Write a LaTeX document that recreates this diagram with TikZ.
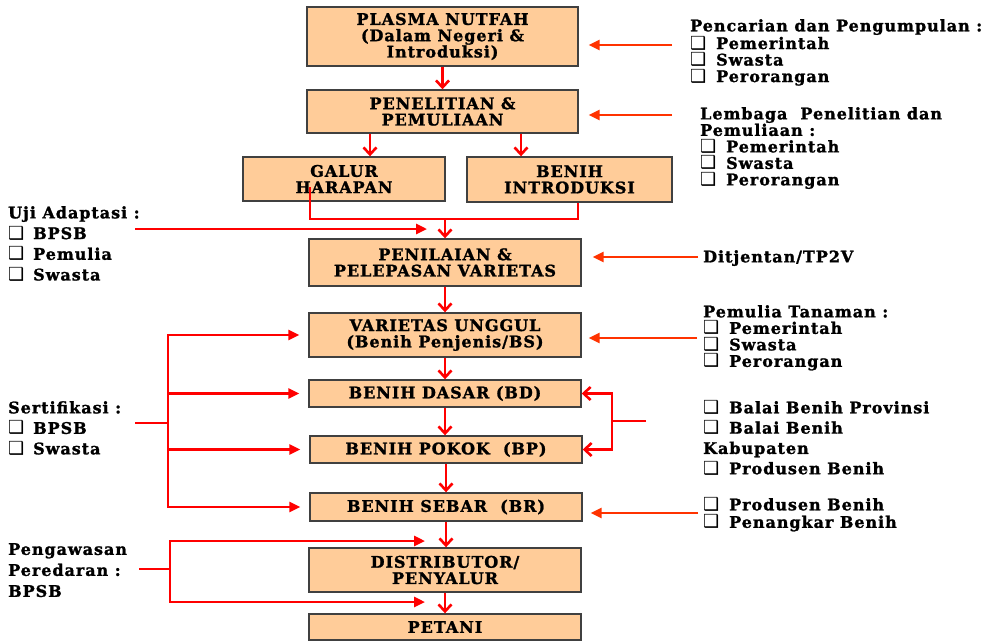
\documentclass[tikz,border=0pt]{standalone}
\usepackage{fontspec}
\setmainfont{DejaVu Serif}[LetterSpace=6, BoldFeatures={FakeBold=1.4}]
\newfontfamily\symf{DejaVu Sans}
\usetikzlibrary{arrows.meta}
\definecolor{boxfill}{RGB}{255,204,153}
\definecolor{boxline}{RGB}{64,64,64}
\definecolor{flowred}{RGB}{255,0,0}
\definecolor{srcred}{RGB}{255,51,0}
% checkbox bullets followed by a fixed indent
\newcommand{\cbox}{{\symf\fontsize{18}{18}\selectfont ❑}}
\newcommand{\cb}{\makebox[26pt][l]{\cbox}}
\newcommand{\cbl}{\makebox[25pt][l]{\cbox}}
\tikzset{
  bx/.style={draw=boxline, fill=boxfill, line width=1.4pt, align=center,
    inner sep=0pt, font=\bfseries\fontsize{16}{16.3}\selectfont},
  lst/.style={anchor=north west, inner sep=0pt, align=left,
    font=\bfseries\fontsize{16}{#1}\selectfont},
  lst/.default=16.5,
  flow/.style={draw=flowred, line width=2.6pt},
  dn/.style={flow, -{Straight Barb[length=7pt,width=13pt]}},
  lf/.style={flow, -{Triangle[length=11pt,width=10pt]}},
  rt/.style={draw=srcred, line width=2.6pt, -{Triangle[length=11pt,width=10pt]}},
}
\begin{document}
\begin{tikzpicture}[x=1pt,y=-1pt]
\useasboundingbox (0,0) rectangle (988,641);

% main chain of boxes
\node[bx, minimum width=271pt, minimum height=59pt] (plasma) at (442.5,36.5) {PLASMA NUTFAH\\(Dalam Negeri \&\\Introduksi)};
\node[bx, minimum width=271pt, minimum height=43pt] (pen) at (442.5,111.5) {PENELITIAN \&\\PEMULIAAN};
\node[bx, minimum width=202pt, minimum height=44pt] (galur) at (344,179) {GALUR\\HARAPAN};
\node[bx, minimum width=205pt, minimum height=45pt] (intro) at (569.5,179.5) {BENIH\\INTRODUKSI};
\node[bx, minimum width=272pt, minimum height=47pt] (penil) at (445,262.5) {PENILAIAN \&\\PELEPASAN VARIETAS};
\node[bx, minimum width=272pt, minimum height=44pt] (vu) at (445,335) {VARIETAS UNGGUL\\(Benih Penjenis/BS)};
\node[bx, minimum width=272pt, minimum height=27pt] (bd) at (445,393.5) {BENIH DASAR (BD)};
\node[bx, minimum width=272pt, minimum height=27pt] (bp) at (446,449.5) {BENIH POKOK\ \ (BP)};
\node[bx, minimum width=272pt, minimum height=28pt] (br) at (446,507) {BENIH SEBAR\ \ (BR)};
\node[bx, minimum width=272pt, minimum height=44pt] (dist) at (445,570) {DISTRIBUTOR/\\PENYALUR};
\node[bx, minimum width=272pt, minimum height=26pt] (pet) at (445,627) {PETANI};

% side notes, right
\node[lst] (cari) at (690,19) {Pencarian dan Pengumpulan :\\\cb Pemerintah\\\cb Swasta\\\cb Perorangan};
\node[lst] (lemb) at (700,107) {Lembaga\ \ Penelitian dan\\Pemuliaan :\\\cb Pemerintah\\\cb Swasta\\\cb Perorangan};
\node[lst] (ditj) at (703,250) {Ditjentan/TP2V};
\node[lst] (pemt) at (703,305) {Pemulia Tanaman :\\\cb Pemerintah\\\cb Swasta\\\cb Perorangan};
\node[lst=20.3] (balai) at (703,400) {\cb Balai Benih Provinsi\\\cb Balai Benih\\Kabupaten\\\cb Produsen Benih};
\node[lst=17.5] (prod) at (703,497) {\cb Produsen Benih\\\cb Penangkar Benih};

% side notes, left
\node[lst=20.7] (uji) at (8,206) {Uji Adaptasi :\\\cbl BPSB\\\cbl Pemulia\\\cbl Swasta};
\node[lst=20.5] (sert) at (8,401) {Sertifikasi :\\\cbl BPSB\\\cbl Swasta};
\node[lst=21] (awas) at (8,543) {Pengawasan\\Peredaran :\\BPSB};

% flow through the chain
\coordinate (gx) at (370,0);
\coordinate (ix) at (521,0);
\draw[dn] (plasma) -- (pen);
\draw[dn] (pen.south -| gx) -- (galur.north -| gx);
\draw[dn] (pen.south -| ix) -- (intro.north -| ix);
\coordinate (gstart) at (310,187);
\coordinate (join) at (445,219);
\coordinate (iend) at (578,0);
\draw[flow] (gstart) |- (join -| iend) -- (intro.south -| iend);
\draw[dn] (join) -- (penil.north);
\draw[dn] (penil) -- (vu);
\draw[dn] (vu) -- (bd);
\draw[dn] (bd.south) -- (bd.south |- bp.north);
\draw[dn] (bp.south) -- (bp.south |- br.north);
\draw[dn] (br.south) -- (br.south |- dist.north);
\draw[dn] (dist) -- (pet);

% inputs from the right
\coordinate (s1) at (672,45);
\coordinate (s2) at (672,115);
\coordinate (s3) at (698,257);
\coordinate (s4) at (697,338);
\coordinate (s5) at (698,513);
\draw[rt, shorten >=10pt] (s1) -- (s1 -| plasma.east);
\draw[rt, shorten >=10pt] (s2) -- (s2 -| pen.east);
\draw[rt, shorten >=11pt] (s3) -- (s3 -| penil.east);
\draw[rt, shorten >=7pt] (s4) -- (s4 -| vu.east);
\draw[rt, shorten >=8pt] (s5) -- (s5 -| br.east);

% seed producers feeding BD and BP
\coordinate (bt) at (646,421);
\coordinate (bj) at (612,421);
\draw[flow] (bt) -- (bj);
\draw[dn] (bj) |- (bd.east);
\draw[dn] (bj) |- (bp.east);

% adaptation tests
\coordinate (ujit) at (135,229);
\coordinate (ujih) at (427,229);
\draw[lf] (ujit) -- (ujih);

% certification
\coordinate (st) at (135,423);
\coordinate (sj) at (168,423);
\draw[flow] (st) -- (sj);
\foreach \n in {vu,bd,bp,br} \draw[lf, shorten >=9pt] (sj) |- (\n.west);

% distribution control
\coordinate (pt) at (139,569);
\coordinate (pj) at (170,569);
\coordinate (ph1) at (425,541);
\coordinate (ph2) at (425,602);
\draw[flow] (pt) -- (pj);
\draw[lf] (pj) |- (ph1);
\draw[lf] (pj) |- (ph2);
\end{tikzpicture}
\end{document}
